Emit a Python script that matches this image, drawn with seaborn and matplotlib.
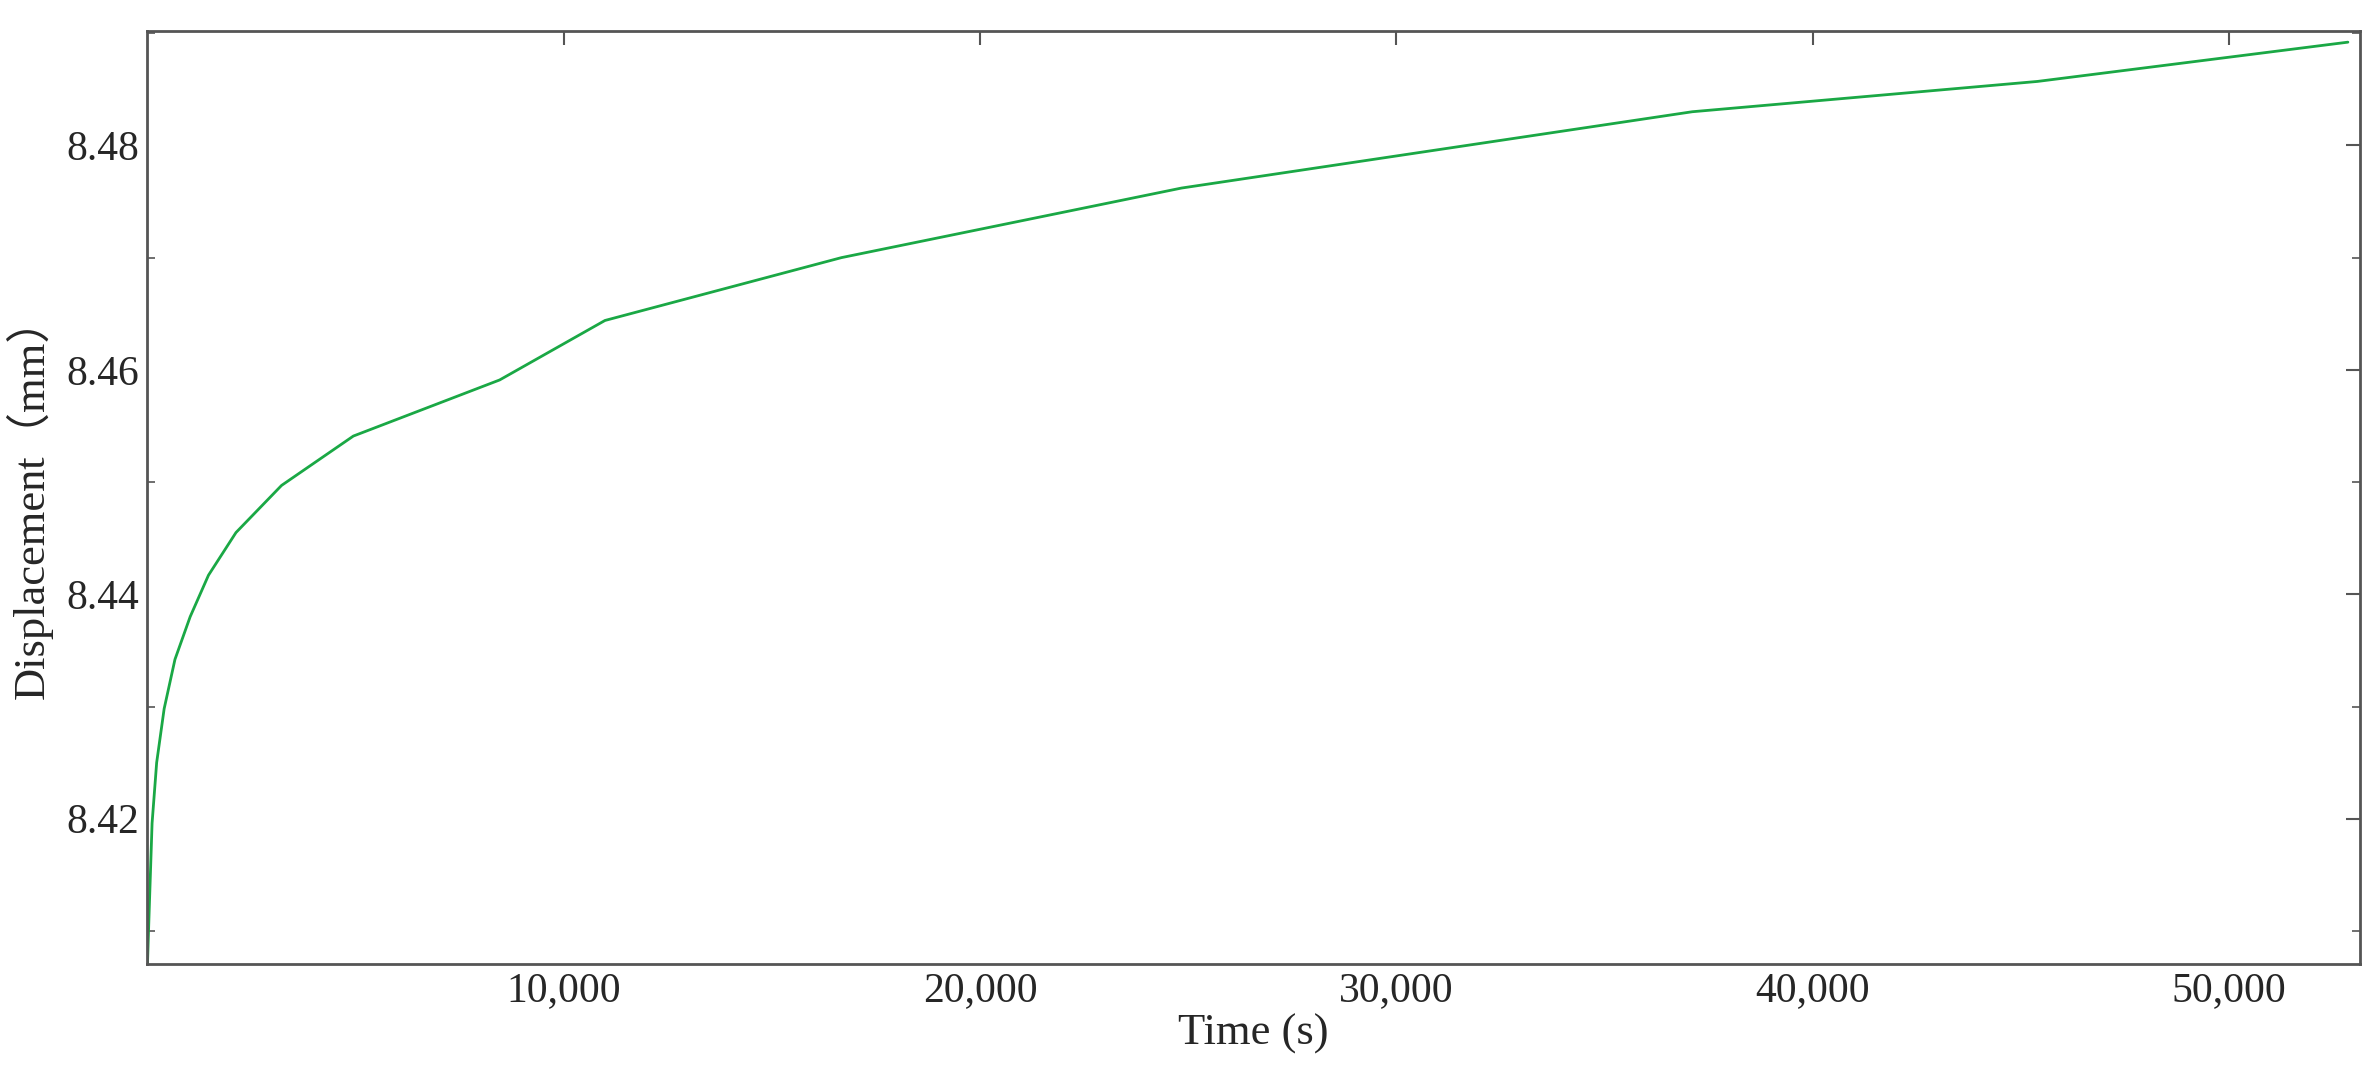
import matplotlib
matplotlib.use("Agg")
import matplotlib.pyplot as plt
import matplotlib.ticker as mticker
import seaborn as sns
import pandas as pd

# creep curve
time_s = [0, 37, 110, 220, 400, 660, 1025, 1465, 2125, 3220, 4945, 8460,
          10990, 16670, 24840, 37110, 45400, 52860]
disp_mm = [8.4071, 8.4114, 8.4196, 8.4250, 8.4298, 8.4342, 8.4380, 8.4417,
           8.4455, 8.4497, 8.4541, 8.4591, 8.4644, 8.4700, 8.4762, 8.4830,
           8.4857, 8.4892]
x_ticks = [10000, 20000, 30000, 40000, 50000]
y_ticks = [8.42, 8.44, 8.46, 8.48]

sns.set_theme(style="white")
plt.rcParams['font.family'] = ['Liberation Serif', 'Noto Sans CJK SC']

df = pd.DataFrame({'t': time_s, 'd': disp_mm})
fig = plt.figure(figsize=(23.79, 10.67), dpi=100)
ax = fig.add_axes([0.062, 0.097, 0.930, 0.874])
sns.lineplot(data=df, x='t', y='d', ax=ax, color='#1aa845', linewidth=2)

ax.set_xlim(0, 53150)
ax.set_ylim(8.4071, 8.4902)
ax.set_xticks(x_ticks)
ax.set_yticks(y_ticks)
ax.yaxis.set_minor_locator(mticker.MultipleLocator(0.01))
ax.xaxis.set_major_formatter(mticker.FuncFormatter(lambda v, p: f"{int(v):,}"))
ax.yaxis.set_major_formatter(mticker.FormatStrFormatter('%.2f'))
ax.tick_params(which='both', direction='in', top=True, right=True, labelsize=30,
               color='#555555', pad=6)
ax.tick_params(which='major', length=10, width=1.5)
ax.tick_params(which='minor', left=True, right=True, length=6, width=1.2)
for s in ax.spines.values():
    s.set_color('#555555')
    s.set_linewidth(2)

ax.set_xlabel('Time (s)', fontsize=32, labelpad=2)
ax.set_ylabel('Displacement（mm）', fontsize=32, labelpad=10)

fig.savefig('out.png', dpi=100)
